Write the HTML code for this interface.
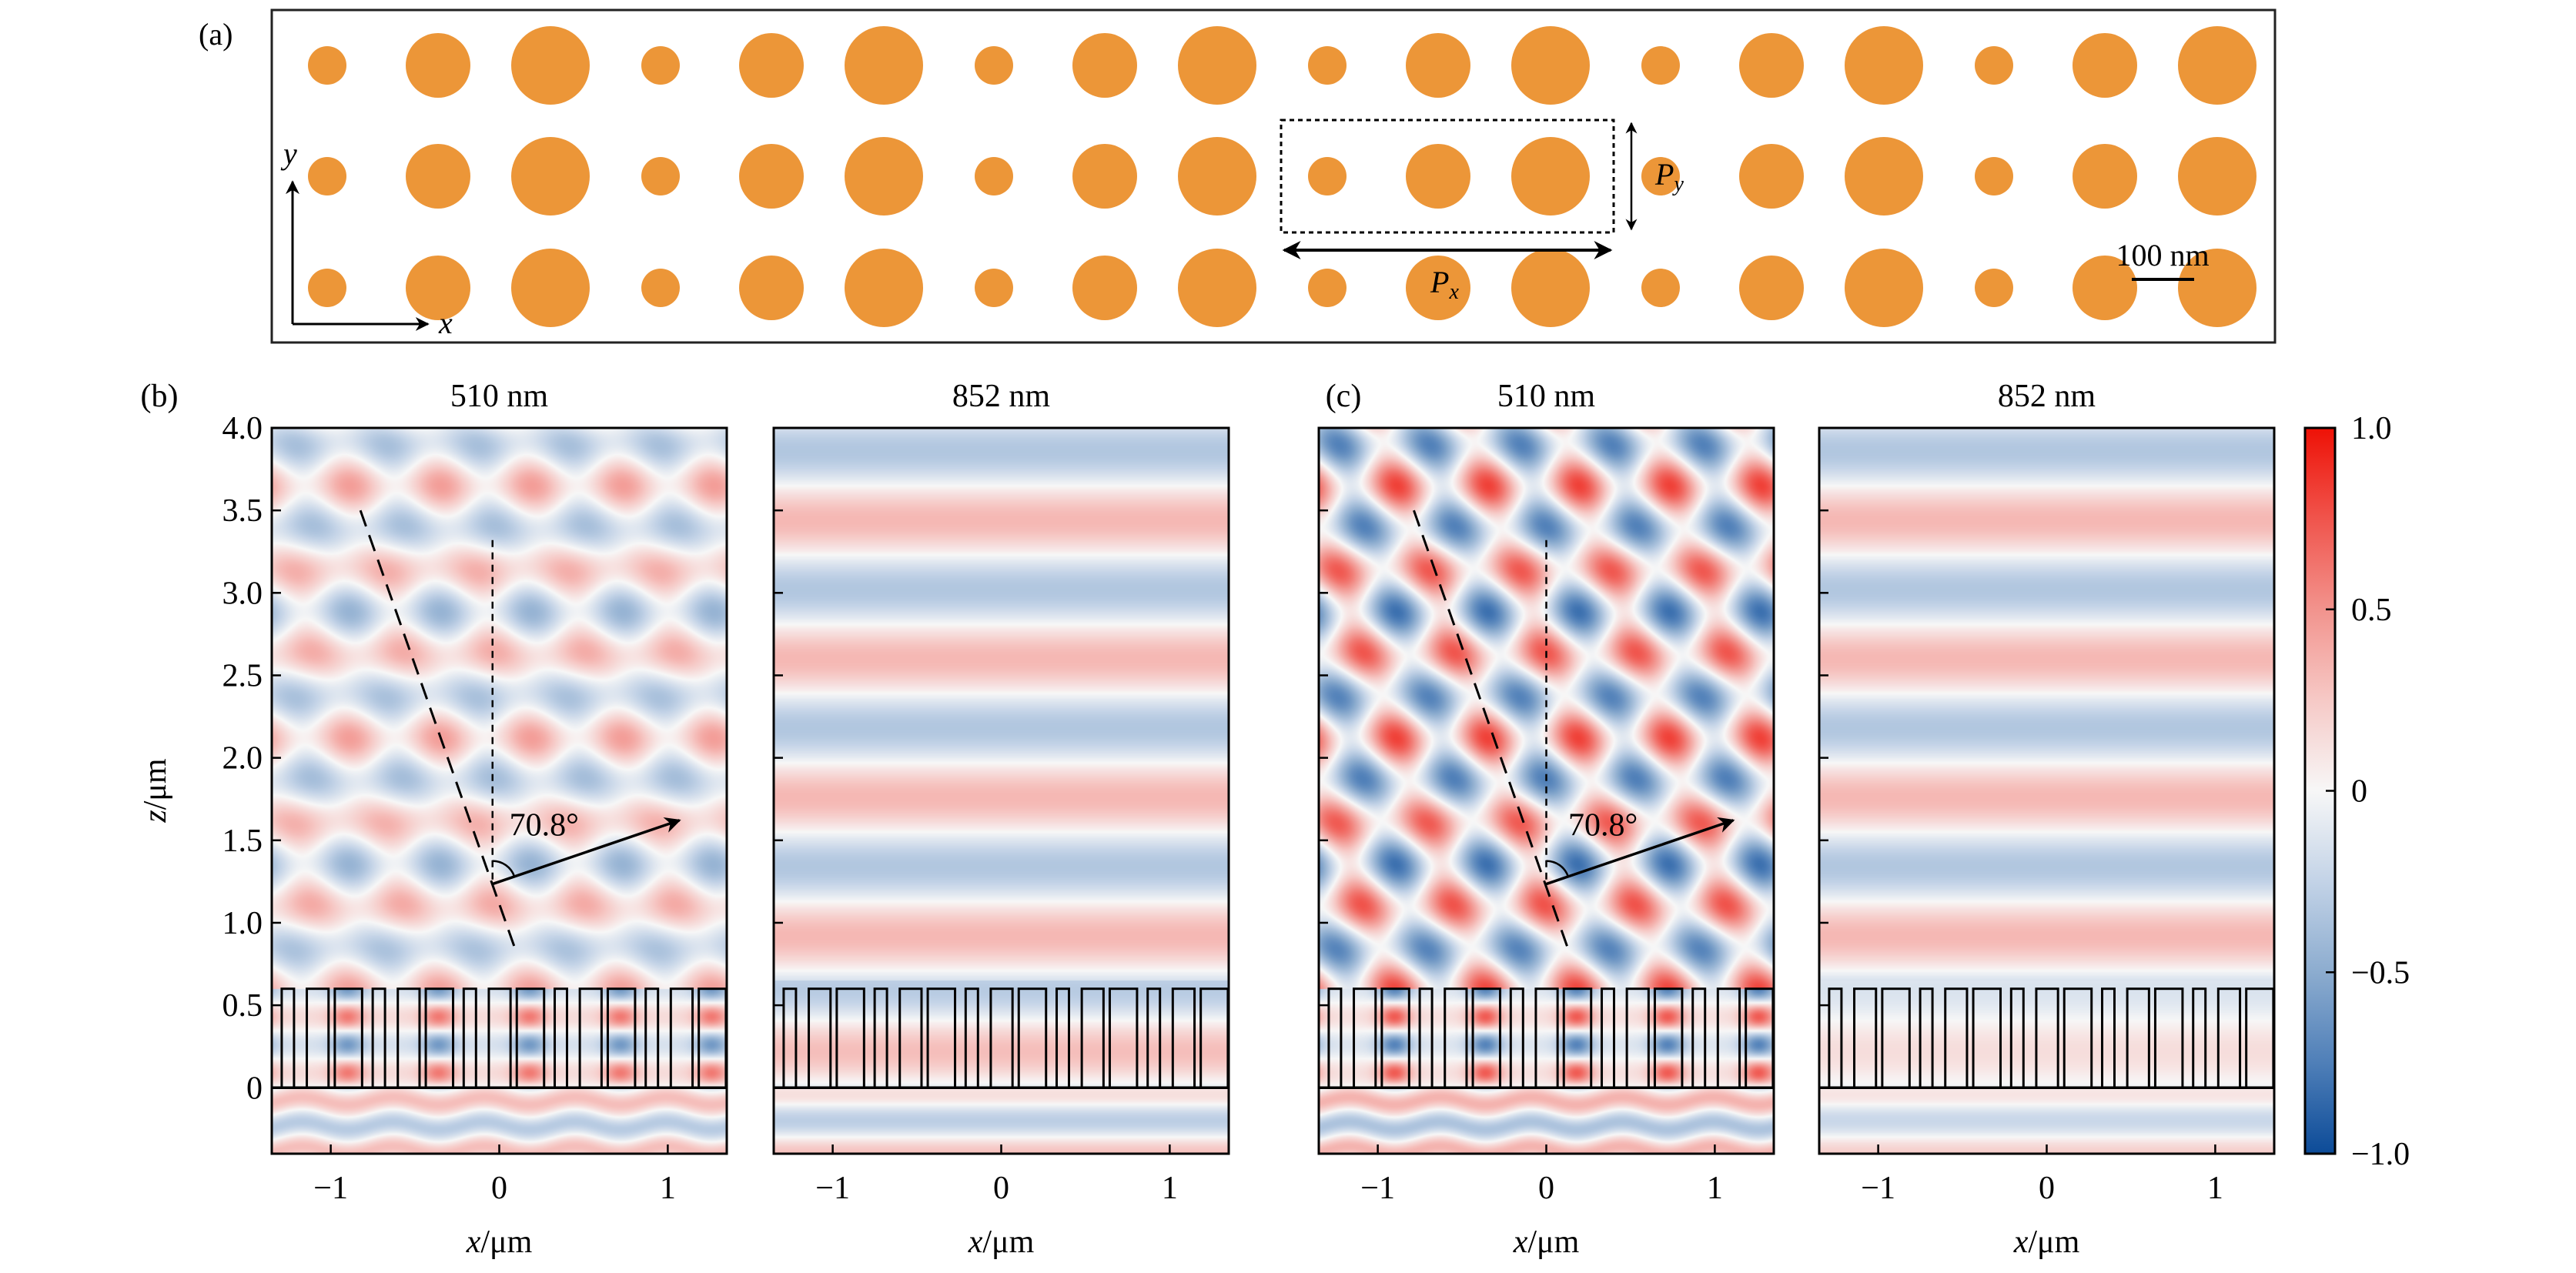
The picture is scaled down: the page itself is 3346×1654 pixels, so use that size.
<!DOCTYPE html>
<html><head><meta charset="utf-8">
<style>
body{margin:0;background:#fff}
#root{position:relative;width:3346px;height:1654px;overflow:hidden;background:#fff}
canvas{position:absolute}
svg{position:absolute;left:0;top:0}
text{font-family:"Liberation Serif",serif;fill:#000}
</style></head>
<body>
<div id="root">
<canvas id="cv-b1"></canvas>
<canvas id="cv-b2"></canvas>
<canvas id="cv-c1"></canvas>
<canvas id="cv-c2"></canvas>
<svg id="ov" width="3346" height="1654" viewBox="0 0 3346 1654">
<defs>
<linearGradient id="cbgrad" x1="0" y1="1" x2="0" y2="0">
<stop offset="0" stop-color="#0c4b98"/><stop offset="0.125" stop-color="#4f7fb8"/><stop offset="0.25" stop-color="#8caccf"/><stop offset="0.375" stop-color="#c3d3e7"/><stop offset="0.5" stop-color="#f7f7f7"/><stop offset="0.625" stop-color="#f6c9c6"/><stop offset="0.75" stop-color="#f2938d"/><stop offset="0.875" stop-color="#f0544c"/><stop offset="1" stop-color="#ee1106"/>
</linearGradient>
<marker id="ah" viewBox="0 0 10 10" refX="9" refY="5" markerWidth="6" markerHeight="6" orient="auto-start-reverse"><path d="M0,0 L10,5 L0,10 L3,5 z" fill="#000"/></marker>
</defs>
<g id="panel-a">
<rect x="353" y="13" width="2602" height="432" fill="none" stroke="#222" stroke-width="3"/>
<text x="258" y="58" font-size="40">(a)</text>
<g id="dots"></g>
<line x1="380" y1="421" x2="380" y2="236" stroke="#000" stroke-width="3" marker-end="url(#ah)"/>
<line x1="380" y1="421" x2="556" y2="421" stroke="#000" stroke-width="3" marker-end="url(#ah)"/>
<text x="368" y="213" font-size="40" font-style="italic">y</text>
<text x="570" y="433" font-size="40" font-style="italic">x</text>
<rect x="1664" y="156" width="432" height="146" fill="none" stroke="#000" stroke-width="3" stroke-dasharray="6,5"/>
<line x1="1668" y1="325" x2="2092" y2="325" stroke="#000" stroke-width="4" marker-start="url(#ah)" marker-end="url(#ah)"/>
<line x1="2119" y1="160" x2="2119" y2="298" stroke="#000" stroke-width="2.5" marker-start="url(#ah)" marker-end="url(#ah)"/>
<text x="1858" y="380" font-size="40" font-style="italic">P<tspan font-size="28" dy="8">x</tspan></text>
<text x="2150" y="240" font-size="40" font-style="italic">P<tspan font-size="28" dy="8">y</tspan></text>
<text x="2809" y="345" font-size="40" text-anchor="middle">100 nm</text>
<line x1="2769" y1="363" x2="2850" y2="363" stroke="#000" stroke-width="4"/>
</g>
<text x="207" y="528" font-size="42" text-anchor="middle">(b)</text>
<text x="1745" y="528" font-size="42" text-anchor="middle">(c)</text>
<text transform="translate(215,1027) rotate(-90)" font-size="42" text-anchor="middle"><tspan font-style="italic">z</tspan>/μm</text>
<g id="panels"></g>
<g id="colorbar">
<rect x="2994" y="556" width="39" height="943" fill="url(#cbgrad)" stroke="#000" stroke-width="3"/>
</g>
</svg>
</div>
<script>
// ---- data arrays ----
const yTicks = [0, 0.5, 1.0, 1.5, 2.0, 2.5, 3.0, 3.5, 4.0];
const yTickLabels = ["0", "0.5", "1.0", "1.5", "2.0", "2.5", "3.0", "3.5", "4.0"];
const xTicks = [-1, 0, 1];
const xTickLabels = ["\u22121", "0", "1"];
const cbTicks = [1.0, 0.5, 0, -0.5, -1.0];
const cbTickLabels = ["1.0", "0.5", "0", "\u22120.5", "\u22121.0"];
const panelTitles = ["510 nm", "852 nm", "510 nm", "852 nm"];
const pillarOffsets = [[0, 0.073], [0.149, 0.278], [0.315, 0.477]];
const pillarGroupStarts = [-1.291, -0.751, -0.211, 0.329, 0.869];
const pillarHeight = 0.6;
const dotRadii = [25, 42, 51];
const deflectAngleDeg = 70.8;
const cmapVals = [-1, -0.75, -0.5, -0.25, 0, 0.25, 0.5, 0.75, 1];
const cmapCols = ["#0c4b98","#4f7fb8","#8caccf","#c3d3e7","#f7f7f7","#f6c9c6","#f2938d","#f0544c","#ee1106"];

const NS = "http://www.w3.org/2000/svg";
const XMIN = -1.35, XMAX = 1.35, ZMIN = -0.4, ZMAX = 4.0;
const TOP = 556, BOT = 1499;
const panels = [
  {id:"b1", L:353, R:944, kind:510, A:0.24, B:0.15, C:0.06, g0:0.15, gs:0.45, bel:0.3, ax:-0.04, lx:0.06, dash:[-0.824,3.5,0.093,0.845], labels:true, name:"b-510"},
  {id:"b2", L:1005, R:1596, kind:852, A:0.33, G:0.3, D:0.28, name:"b-852"},
  {id:"c1", L:1713, R:2304, kind:510, A:0.36, B:0.4, C:0.06, g0:0.12, gs:0.6, bel:0.35, ax:0.0, lx:0.13, dash:[-0.786,3.5,0.128,0.845], name:"c-510"},
  {id:"c2", L:2363, R:2954, kind:852, A:0.33, G:0.14, D:0.22, name:"c-852"}
];

function mk(tag, attrs, parent) {
  const e = document.createElementNS(NS, tag);
  for (const k in attrs) e.setAttribute(k, attrs[k]);
  parent.appendChild(e);
  return e;
}
function hex(c){return [parseInt(c.substr(1,2),16),parseInt(c.substr(3,2),16),parseInt(c.substr(5,2),16)];}
const cmapRGB = cmapCols.map(hex);
function cmap(v){
  v = Math.max(-1, Math.min(1, v));
  let i = Math.min(cmapVals.length-2, Math.floor((v+1)/0.25));
  const t = (v - cmapVals[i]) / (cmapVals[i+1]-cmapVals[i]);
  const a = cmapRGB[i], b = cmapRGB[i+1];
  return [a[0]+(b[0]-a[0])*t, a[1]+(b[1]-a[1])*t, a[2]+(b[2]-a[2])*t];
}
const TWO_PI = Math.PI*2;
const k510 = TWO_PI/0.51;
const th = deflectAngleDeg*Math.PI/180, sn = Math.sin(th), cs = Math.cos(th);
function modc(v, p){ return ((v % p) + p) % p; }
function field(p, x, z){
  if (p.kind === 510) {
    if (z >= pillarHeight) {
      return p.A*Math.cos(k510*(z-3.65)) + p.B*Math.cos(k510*(sn*(x+0.885) + cs*(z-3.65)))
           + p.C*Math.cos(k510*(-sn*(x+0.885) + cs*(z-3.65)));
    } else if (z >= 0) {
      const xm = modc(x + 0.9 + 0.27, 0.54) - 0.27;
      const g = Math.exp(-xm*xm/(2*0.07*0.07));
      return -Math.cos(TWO_PI*(z-0.26)/0.34) * (p.g0 + p.gs*g);
    } else {
      return p.bel*Math.cos(TWO_PI*(z+0.08)/0.3 + 0.5*Math.cos(TWO_PI*(x+0.9)/0.54));
    }
  } else {
    if (z >= pillarHeight + 0.05) {
      return p.A*Math.cos(TWO_PI*(z-3.44)/0.84);
    } else if (z >= 0) {
      return p.G*Math.cos(TWO_PI*(z-0.22)/0.75);
    } else {
      return p.D*Math.cos(TWO_PI*(z+0.4)/0.4)*Math.min(1, 0.3 + (-z)/0.15);
    }
  }
}

// dots in panel (a)
const dots = document.getElementById("dots");
const rowsY = [85, 229, 374];
const dotOffsetsPx = [0, 144, 290];
for (let r = 0; r < rowsY.length; r++) {
  for (let n = 0; n < 6; n++) {
    for (let j = 0; j < dotRadii.length; j++) {
      const c = mk("circle", {cx: 425 + n*433 + dotOffsetsPx[j], cy: rowsY[r], r: dotRadii[j], fill: "#ec9638"}, dots);
      
      
    }
  }
}

const gp = document.getElementById("panels");
panels.forEach((p, pi) => {
  const W = p.R - p.L, H = BOT - TOP;
  const sx = x => p.L + (x - XMIN)/(XMAX - XMIN)*W;
  const sz = z => TOP + (ZMAX - z)/(ZMAX - ZMIN)*H;
  const cv = document.getElementById("cv-" + p.id);
  cv.width = W; cv.height = H;
  cv.style.left = p.L + "px"; cv.style.top = TOP + "px";
  const ctx = cv.getContext("2d");
  const img = ctx.createImageData(W, H);
  for (let j = 0; j < H; j++) {
    const z = ZMAX - (j+0.5)/H*(ZMAX-ZMIN);
    for (let i = 0; i < W; i++) {
      const x = XMIN + (i+0.5)/W*(XMAX-XMIN);
      const c = cmap(field(p, x, z));
      const o = (j*W+i)*4;
      img.data[o]=c[0]; img.data[o+1]=c[1]; img.data[o+2]=c[2]; img.data[o+3]=255;
    }
  }
  ctx.putImageData(img, 0, 0);

  const g = mk("g", {}, gp);
  
  
  pillarGroupStarts.forEach(s => {
    pillarOffsets.forEach(o => {
      const x0 = s + o[0], x1 = Math.min(s + o[1], XMAX - 0.005);
      const rc = mk("rect", {x: sx(x0), y: sz(pillarHeight), width: sx(x1)-sx(x0), height: sz(0)-sz(pillarHeight), fill: "none", stroke: "#000", "stroke-width": 3}, g);
      
      
    });
  });
  const base = mk("line", {x1: p.L, x2: p.R, y1: sz(0), y2: sz(0), stroke: "#000", "stroke-width": 3.5}, g);
  
  
  yTicks.forEach((t, i) => {
    const tk = mk("line", {x1: p.L, x2: p.L + 12, y1: sz(t), y2: sz(t), stroke: "#000", "stroke-width": 2.5}, g);
    
    
    if (p.labels) {
      const tl = mk("text", {x: p.L - 12, y: sz(t) + 14, "font-size": 42, "text-anchor": "end"}, g);
      tl.textContent = yTickLabels[i];
      
      
    }
  });
  xTicks.forEach((t, i) => {
    const tk = mk("line", {x1: sx(t), x2: sx(t), y1: BOT, y2: BOT - 12, stroke: "#000", "stroke-width": 2.5}, g);
    
    
    const tl = mk("text", {x: sx(t), y: BOT + 58, "font-size": 42, "text-anchor": "middle"}, g);
    tl.textContent = xTickLabels[i];
    
    
  });
  const xl = mk("text", {x: (p.L + p.R)/2, y: BOT + 128, "font-size": 42, "text-anchor": "middle"}, g);
  xl.innerHTML = '<tspan font-style="italic">x</tspan>/μm';
  
  
  const tt = mk("text", {x: (p.L + p.R)/2, y: TOP - 28, "font-size": 42, "text-anchor": "middle"}, g);
  tt.textContent = panelTitles[pi];
  
  
  if (p.kind === 510) {
    const d = p.dash;
    const ld = mk("line", {x1: sx(d[0]), y1: sz(d[1]), x2: sx(d[2]), y2: sz(d[3]), stroke: "#000", "stroke-width": 3, "stroke-dasharray": "22,12"}, g);
    
    
    const vd = mk("line", {x1: sx(p.ax), y1: sz(3.32), x2: sx(p.ax), y2: sz(1.235), stroke: "#000", "stroke-width": 2.5, "stroke-dasharray": "9,7"}, g);
    
    
    const vx = sx(p.ax), vy = sz(1.235);
    const len = 1.175;
    const ex = sx(p.ax + len*sn), ey = sz(1.235 + len*cs);
    const ar = mk("line", {x1: vx, y1: vy, x2: ex, y2: ey, stroke: "#000", "stroke-width": 3.5, "marker-end": "url(#ah)"}, g);
    
    
    const L0 = Math.hypot(ex-vx, ey-vy), ux = (ex-vx)/L0, uy = (ey-vy)/L0, r = 30;
    const arc = mk("path", {d: `M${vx},${vy-r} A${r},${r} 0 0 1 ${vx+r*ux},${vy+r*uy}`, fill: "none", stroke: "#000", "stroke-width": 2.5}, g);
    
    
    const al = mk("text", {x: sx(p.lx), y: sz(1.53), "font-size": 42}, g);
    al.textContent = deflectAngleDeg.toFixed(1) + "\u00B0";
    
    
  }
  const fr = mk("rect", {x: p.L, y: TOP, width: W, height: H, fill: "none", stroke: "#000", "stroke-width": 3}, g);
  
  
});

const cb = document.getElementById("colorbar");
const cbY = v => TOP + (1 - v)/2*(BOT - TOP);
cbTicks.forEach((t, i) => {
  const tk = mk("line", {x1: 3033, x2: 3021, y1: cbY(t), y2: cbY(t), stroke: "#000", "stroke-width": 2.5}, cb);
  
  
  const tl = mk("text", {x: 3054, y: cbY(t) + 14, "font-size": 42}, cb);
  tl.textContent = cbTickLabels[i];
  
  
});
</script>
</body></html>
